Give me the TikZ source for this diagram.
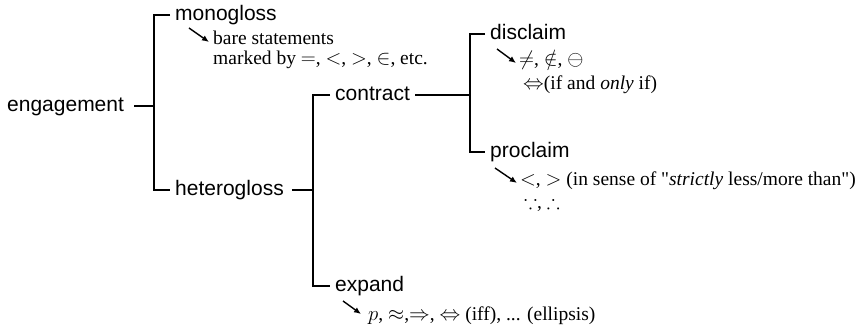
\documentclass[tikz,border=0pt]{standalone}
\usepackage{amssymb}
\usepackage{fontspec}
\setmainfont{Liberation Serif}
\setsansfont{Liberation Sans}
\usetikzlibrary{arrows.meta,calc,positioning}

\tikzset{
  lbl/.style={font=\sffamily\fontsize{21}{24}\selectfont,anchor=west,inner xsep=5pt,inner ysep=0pt,text height=15pt,text depth=3pt},
  note/.style={font=\fontsize{19.5}{22}\selectfont,anchor=base west,inner sep=0pt},
  tree/.style={line width=1.6pt},
  pointer/.style={-{Latex[length=7pt,width=6pt]},line width=1.4pt}
}

\begin{document}
\begin{tikzpicture}[x=1pt,y=-1pt,>=Latex]
\useasboundingbox (0,0) rectangle (860,331);
\node[lbl] (eng) at (2,106) {engagement};
\node[lbl] (mono) at (170,15) {monogloss};
\node[lbl] (hetero) at (170,190) {heterogloss};
\node[lbl] (contract) at (330,95) {contract};
\node[lbl] (expand) at (330,286) {expand};
\node[lbl] (disclaim) at (485,34) {disclaim};
\node[lbl] (proclaim) at (485,152) {proclaim};
\coordinate (j1) at (154,106);
\coordinate (j2) at (313,190);
\coordinate (j3) at (470,95);
\draw[tree,shorten <=5pt] (eng) -- (j1);
\draw[tree] (mono.west) -| (j1) |- (hetero.west);
\draw[tree,shorten <=3pt] (hetero) -- (j2);
\draw[tree] (contract.west) -| (j2) |- (expand.west);
\draw[tree] (contract) -- (j3);
\draw[tree] (disclaim.west) -| (j3) |- (proclaim.west);
% notes under the leaves
\node[note] (bare) at (213,45) {bare statements};
\node[note] (marked) at (213,65) {marked by $=$, $<$, $>$, $\in$, etc.};
\node[note] (disc1) at (519,66) {$\neq$, $\notin$, $\ominus$};
\node[note] (disc2) at (523,90) {$\Leftrightarrow$(if and \textit{only} if)};
\node[note] (proc1) at (520,186) {$<$, $>$ (in sense of \textquotedbl\textit{strictly} less/more than\textquotedbl)};
\node[note] (proc2) at (524,209) {$\because$, $\therefore$};
\node[note] (exp1) at (368,320) {$p$, $\approx$,$\Rightarrow$, $\Leftrightarrow$ (iff), ... (ellipsis)};
\coordinate (ma) at (189,28);
\coordinate (da) at (497,49);
\coordinate (pa) at (495,168);
\coordinate (ea) at (343,301);
\draw[pointer] (ma) -- ([shift={(-4,-3)}]bare.base west);
\draw[pointer] (da) -- ([shift={(-3,-3)}]disc1.base west);
\draw[pointer] (pa) -- ([shift={(-3,-3)}]proc1.base west);
\draw[pointer] (ea) -- ([shift={(-7,-6)}]exp1.base west);
\end{tikzpicture}
\end{document}
